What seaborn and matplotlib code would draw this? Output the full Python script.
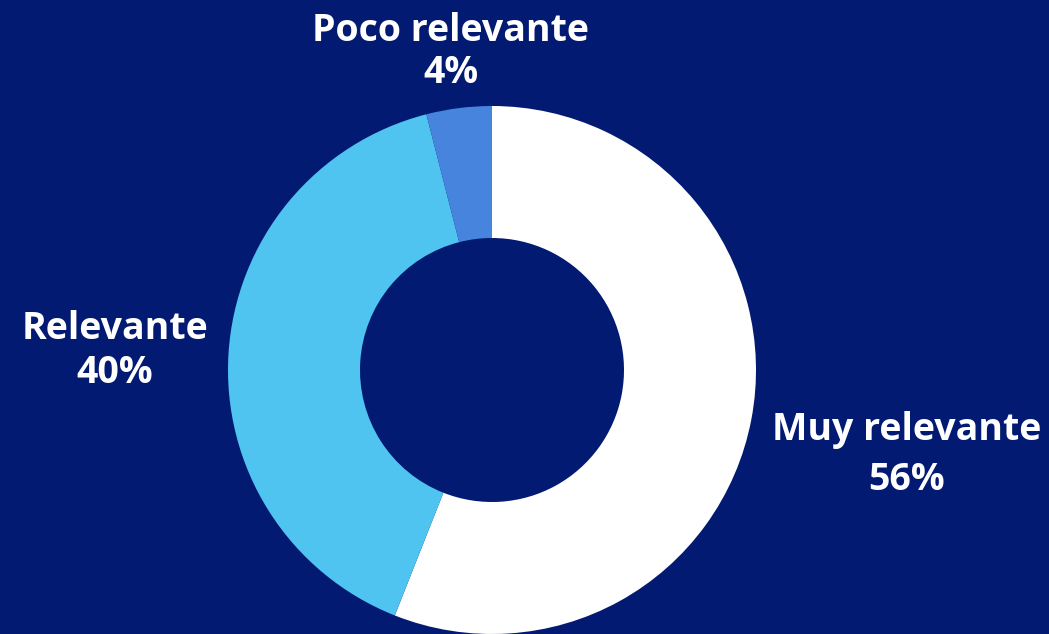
import matplotlib
matplotlib.use("Agg")
import matplotlib.pyplot as plt
import seaborn as sns

categories = ["Muy relevante", "Relevante", "Poco relevante"]
values = [56, 40, 4]
colors = ["#FFFFFF", "#4FC4F0", "#4684DE"]
bg = "#031A72"

sns.set_theme(style="white")
plt.rcParams['font.family'] = ['Open Sans', 'DejaVu Sans']

W, H = 1049, 634
fig = plt.figure(figsize=(W / 100, H / 100), dpi=100, facecolor=bg)
cx, cy, r = 492, 370, 264
ax = fig.add_axes([(cx - r) / W, (H - cy - r) / H, 2 * r / W, 2 * r / H])
ax.set_facecolor(bg)
ax.pie(values, colors=colors, startangle=90, counterclock=False,
       radius=1.0, wedgeprops=dict(width=0.5, edgecolor="none"))
ax.set_xlim(-1, 1)
ax.set_ylim(-1, 1)
ax.set_aspect("equal")
ax.axis("off")

label_pos = {"Muy relevante": (907, 455, 1.40), "Relevante": (115, 351, 1.22),
             "Poco relevante": (451, 52, 1.17)}
for cat, val in zip(categories, values):
    x, y, ls = label_pos[cat]
    fig.text(x / W, 1 - y / H, f"{cat}\n{val}%", ha="center", va="center",
             color="white", fontsize=27, fontweight="bold", linespacing=ls)

fig.savefig("out.png", dpi=100, facecolor=bg)
